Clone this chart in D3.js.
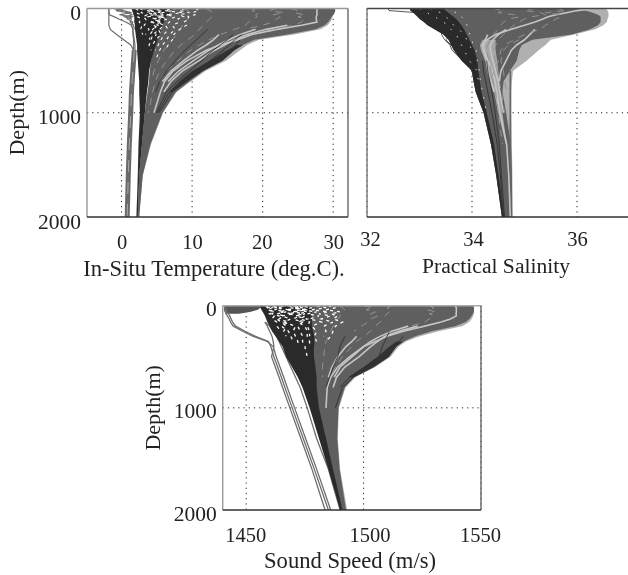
<!DOCTYPE html>
<html>
<head>
<meta charset="utf-8">
<script src="https://cdn.jsdelivr.net/npm/d3@7"></script>
<style>
  html, body { margin: 0; padding: 0; background: #fff; overflow: hidden; }
  text { font-family: "Liberation Serif", serif; fill: #222; }
</style>
</head>
<body>
<div class="canvas"></div>
<script>
// shared depth levels (m), every profile below has one value per level (short rows stop early)
const depths = [0,20,40,60,80,100,130,160,200,250,300,350,400,500,600,700,800,1000,1300,1600,2000]
const depthTicks = [0, 1000, 2000]
const _ = null

// ---- temperature (deg.C)
const tempTicks = [0, 10, 20, 30]
const tempEdge = [30.2,30.3,30.2,30,29.9,29.8,29.6,29.2,28.2,24.5,19.5,17.8,16.8,14.8,11.9,9.8,7.8,5.9,4.2,3,2.5]
const tempMidRight = [30.2,30.3,30.2,30,29.8,29.6,29.3,28.8,27.5,23.5,18.8,17.2,16,14.3,11.6,9.6,7.7,5.8,4.1,3,2.5]
const tempMidLeft = [6,6,6,6,6,5.8,5.6,5.4,5.2,5,4.8,4.6,4.4,4.2,4,3.9,3.7,3.3,2.9,2.5,2.3]
const tempDarkLeft = [1.4,1.5,1.6,1.7,1.8,1.8,1.8,1.9,1.9,2,2.1,2.2,2.2,2.3,2.4,2.5,2.5,2.6,2.4,2.3,2.1]
const tempDarkRight = [7,7,6.8,6.6,6.4,6.2,6,5.8,5.6,5.4,5.1,4.9,4.6,4.2,3.9,3.8,3.6,3.3,2.9,2.5,2.3]
const tempLowerA = [_,_,_,_,_,_,_,_,_,_,_,17.2,16,14.3,11.5,9.3,7.2]
const tempLowerB = [_,_,_,_,_,_,_,_,_,_,_,16.4,15,12.5,10,8.2,6.8]
const tempDark = [
  [_,_,_,_,_,_,_,_,_,_,16.8,16.2,15.5,13.9,11.3,9,7.2,5.3],
  [_,_,_,_,_,_,_,_,_,17,16,15.3,14.4,12.6,10.6,8.5,6.8,5.1],
  [_,_,_,_,_,_,_,_,_,15.8,15,14,13,11.4,9.6,7.9,6.4,4.9],
  [_,_,_,_,_,_,_,_,12.2,11.4,10.6,9.8,9,7.6,6.4,5.4,4.8]
]
const tempHoles = [
  [3,4.5,3.5,5,3.8,4.8,4.2,5.2,4.4,4.9,4.6],
  [5,3.6,5.5,4,6,4.4,5.6,4.6,5.2,5.6,4.8,4.4],
  [6.4,7.2,5.8,6.6,5,5.8,4.4,5,4.6,4,4],
  [2.6,3.2,2.8,3.6,3,3.4,3.6,3.2,3.9,3.4],
  [2,2.4,2.1,2.7,2.3,2.8,2.5,2.9,2.7,3],
  [7.8,6,8.6,6.4,7.6,7,6.8,6.2,6.6,6,5.6,5.2,4.8],
  [4,5.8,4.6,6.2,5.4,6.6,5,6,5.4,4.4,4.2,3.9,4.2],
  [9,8.2,9.6,8.2,8.8,8,8.2,7.2,7.6,6.8,6.4,5.8,5.4,4.8],
  [10.5,11,10,10.4,9.4,9.6,8.8,9.2,8.2,7.4,7.2,6.6,6.2]
]
const tempLight = [
  [27.7,27.7,27.7,27.7,27.6,27.6,27.7,25.5,22,18.5,16.5,14,12,9.3,7.3,6.1,5.5,4.6],
  [_,_,_,_,_,_,_,23.5,20.5,17.8,16,14.6,13.2,11,8.6,7,6],
  [_,_,_,_,_,_,_,_,19,16.8,15.2,13.7,12.4,10.2,8.1,6.6],
  [_,_,_,_,_,_,_,_,_,13.8,13,12,10.8,8.8,7,5.8]
]
const tempFleck = [
  [12,12.5,13,13,12.8,12.5,12,11.6,11,10.4,9.4,8.4,7.6,6.4,5.4,4.8,4.4,3.8],
  [19,18.5,19.5,19,19.2,18.6,18,17.6,16,14,12.4,11,9.8,8,6.4,5.4],
  [9,9.4,9.8,9.2,9.6,9.4,9,8.6,8.4,7.8,7.2,6.6,6,5.2,4.6,4.2],
  [24,25,24.5,26,25,26,25.5,24.5,21.5],
  [22,21,23,21.5,22.5,22,21.5,20,17.5]
]
const tempPolar = [
  [-1.8,-1.8,-1.8,-1.8,-1.8,-1.8,-1.8,-1.8,-1.6,-0.7,0.3,1.3,1.7,1.6,1.6,1.5,1.4,1.1,1,0.9,0.8],
  [-1.8,-1.8,-1.8,-1.7,-1,-0.4,0.6,1.4,1.6,1.6,1.7,1.7,1.7,1.7,1.6,1.5,1.4,1.2,1,0.9,0.8],
  [-1.2,0.2,1.4,-0.3,1.5,0.8,1.6,1.4,1.6,1.7,1.8,1.9,1.9,1.8,1.7,1.6,1.5,1.3,1.1,1,0.9],
  [0.4,-0.8,0.9,1.5,0.4,1.4,1.2,1.7,1.8]
]
const tempBand = [_,_,_,_,_,_,_,_,_,_,_,_,1.8,1.7,1.6,1.5,1.4,1.3,1.1,0.95,0.8]

// ---- salinity
const salTicks = [32, 34, 36]
const salEdge = [36.55,36.58,36.6,36.6,36.6,36.58,36.57,36.5,36.35,35.95,35.5,35.4,35.27,35.04,34.78,34.76,34.75,34.75,34.76,34.77,34.77]
const salMidRight = [36,36.15,36.3,36.4,36.45,36.45,36.45,36.4,36.25,35.9,35.15,34.95,34.9,34.85,34.72,34.6,34.58,34.65,34.74,34.76,34.77]
const salMidLeft = [33.1,33.15,33.2,33.25,33.3,33.35,33.4,33.45,33.5,33.6,33.65,33.7,33.75,33.85,34,34.03,34.07,34.22,34.36,34.46,34.57]
const salDarkLeft = [32.82,32.82,32.88,32.92,32.96,33,33.08,33.15,33.28,33.45,33.55,33.6,33.65,33.8,34,34.03,34.07,34.22,34.36,34.46,34.57]
const salDarkRight = [33.45,33.5,33.55,33.6,33.65,33.7,33.75,33.8,33.85,33.9,33.95,34,34.05,34.1,34.12,34.15,34.18,34.28,34.42,34.5,34.6]
const salBandLeft = [_,_,_,_,_,_,_,_,_,_,34.2,34.15,34.17,34.25,34.3,34.36,34.42,34.5,34.64]
const salBandRight = [_,_,_,_,_,_,_,_,_,_,34.45,34.45,34.45,34.48,34.5,34.52,34.54,34.58,34.66]
const salDark = [
  [32.4,32.42,32.95,33.1,33.2,33.25,33.3,33.4,33.5,33.55,33.6,33.63,33.7,33.9,34,34.05,34.1,34.25,34.4,34.5,34.6],
  [_,_,_,_,_,_,_,_,33.42,33.42,33.48,33.58,33.62,33.82],
  [_,_,_,_,_,_,_,_,33.52,33.6,33.5,33.6,33.72,33.9],
  [_,_,_,_,_,_,_,_,_,_,_,_,_,34.2,34.22,34.26,34.3,34.38,34.48,34.54,34.6],
  [_,_,_,_,_,_,_,_,_,_,_,_,_,34.28,34.3,34.34,34.38,34.44,34.52,34.56,34.62]
]
const salHoles = [
  [33.2,33.3,33.4,33.45,33.5,33.55,33.6,33.65,33.75,33.85,33.9,33.95,34],
  [33,33.1,33.15,33.2,33.3,33.35,33.45,33.55,33.6,33.7,33.75,33.8,33.85,33.95,34.1,34.12],
  [33.5,33.6,33.7,33.8,33.8,33.85,33.9,33.9,33.95,33.95,34,34.02,34.08,34.1,34.14,34.16,34.2,34.28]
]
const salLight = [
  [36.3,36,35.8,35.6,35.45,35.35,35.2,35,34.75,34.45,34.28,34.2,34.23,34.3,34.38,34.44,34.47,34.53,34.66,34.7,34.73],
  [_,_,_,_,_,_,_,_,34.65,34.5,34.4,34.35,34.35,34.4,34.45,34.5,34.53,34.6],
  [_,_,_,_,_,_,_,_,_,34.3,34.25,34.22,34.22,34.28,34.3,34.36,34.42],
  [_,_,_,_,_,_,_,_,35.2,35.1,35,34.85,34.75,34.65,34.55,34.52]
]
const salFleck = [
  [34.4,34.6,34.5,34.8,34.9,34.7,34.6,34.55,34.5,34.4,34.35,34.3,34.28,34.32,34.36,34.4,34.45,34.5,34.58],
  [35.2,35,35.3,35.4,35.1,35,34.9,34.8,34.7,34.6,34.5,34.45,34.42,34.44,34.48,34.52,34.56,34.62],
  [35.6,35.8,35.4,35.7,35.7,35.6,35.5,35.4,35.3,35,34.8,34.62,34.55,34.5,34.42,34.34],
  [_,_,_,_,_,_,_,_,_,_,34.9,34.7,34.6,34.55,34.6,34.62,34.66]
]
const salVertical = [_,_,_,_,_,_,_,_,_,_,_,_,_,_,34.73,34.73,34.73,34.73,34.73,34.74,34.74]

// ---- sound speed (m/s)
const soundTicks = [1450, 1500, 1550]
const soundEdge = [1546.7,1547,1547,1547,1547,1546.7,1546,1545,1542,1532,1524,1518,1515,1511.5,1505,1496.5,1492.3,1489.5,1489,1490,1493]
const soundMidRight = [1546.7,1547,1547,1547,1546.5,1546,1545,1543.5,1539,1529,1522,1517,1514,1511,1504.5,1496,1492,1489.3,1488.8,1489.8,1492.5]
const soundMidLeft = [1473,1473.5,1474,1474.5,1475,1475.5,1476,1477,1477.5,1478,1478.5,1478.5,1479,1479,1479,1479,1479.5,1480,1483,1486,1490]
const soundDarkLeft = [1456,1456,1456.5,1457,1457.5,1458,1458.5,1459,1460,1461,1462.5,1464,1465.5,1467,1469.5,1472,1474,1477,1481,1485,1490]
const soundDarkRight = [1478,1478,1478,1478,1478,1478,1478,1478,1478,1478.5,1479,1479,1479,1479,1479.5,1480,1480,1481,1484,1487,1491]
const soundLowerA = [_,_,_,_,_,_,_,_,_,_,_,1517,1514,1510.5,1504,1495.5]
const soundLowerB = [_,_,_,_,_,_,_,_,_,_,_,1514,1511,1506,1500,1493.5]
const soundStrip = [1458,1456,1455,1452,1447]
const soundStripLeft = [1440.5,1440.5,1440.5,1440.8,1441.2]
const soundDark = [
  [_,_,_,_,_,_,_,_,_,_,1517,1515,1513.5,1510.5,1504,1495.5,1491,1488],
  [_,_,_,_,_,_,_,_,_,1511,1510,1509,1508,1506.5,1501,1494,1490],
  [_,_,_,_,_,_,_,_,_,_,1492,1491,1490,1489,1487,1485.5,1484]
]
const soundHoles = [
  [1461,1465,1462,1467,1463,1466,1464,1468,1465,1468,1469,1470],
  [1466,1462,1468,1464,1470,1465,1469,1466,1471,1470,1471,1472,1472],
  [1470,1474,1467,1472,1468,1473,1470,1474,1472,1473,1474,1474,1475,1476],
  [1475,1469,1476,1470,1475,1471,1476,1472,1475,1476,1476,1477,1477],
  [1463,1459,1460,1462,1460,1462,1461,1463,1463,1465],
  [1472,1478,1473,1480,1476,1481,1477,1482,1478,1480,1479,1480],
  [1480,1484,1478,1485,1481,1486,1482,1487,1483,1484,1483],
  [1468,1472,1471,1476,1472,1475,1473,1477,1476,1477,1477],
  [1458,1461,1459,1462,1461,1464,1463,1465,1467,1466,1467],
  [1485,1488,1484,1490,1486,1489,1487,1491,1488,1487,1486,1484]
]
const soundLight = [
  [1539,1539.5,1539.5,1539.5,1539.4,1539.5,1537,1533,1526,1517,1510,1505,1500,1494,1489,1486,1484.5,1484],
  [_,_,_,_,_,_,_,_,1523,1515,1509,1506,1503,1498,1492,1488.5,1487],
  [_,_,_,_,_,_,_,_,1519,1512,1507,1503,1500,1495,1490,1487.5],
  [_,_,_,_,_,_,_,_,_,_,1497,1495,1492.5,1489,1486.5,1485]
]
const soundFleck = [
  [1490,1491,1492,1491,1490,1490,1489,1488,1487,1486,1485,1484,1483.5,1483,1482.5,1482.5],
  [1512,1510,1512,1511,1510,1509,1508,1507,1505,1503,1500,1497,1495,1491,1488,1486],
  [1528,1530,1527,1531,1528,1530,1528,1526,1520],
  [1500,1504,1501,1505,1503,1506,1503,1502,1499,1496]
]
const soundPolar = [
  [1441,1441,1441,1441.2,1441.5,1442,1442.8,1443.3,1444.5,1448.5,1453,1459,1461.5,1462.8,1464.4,1466,1467.5,1470.6,1475.3,1480,1486],
  [1441,1441,1441.5,1441.8,1442.5,1443,1443.6,1444.2,1445.5,1449.5,1454,1459.5,1460.5,1461.8,1463.4,1465,1466.5,1469.6,1474.3,1479,1485],
  [_,_,_,_,_,_,_,1458,1459,1460,1461,1461.5,1461.8,1460.8,1462.4,1464,1465.5,1468.6,1473.3,1478,1483.6],
  [_,_,_,_,_,_,_,1458,1460,1461.5,1463,1464,1465,1467,1469,1471,1473,1476,1480,1485,1490]
]

const svg = d3.select('.canvas').append('svg').attr('width', 628).attr('height', 575)
const defs = svg.append('defs')
defs.append('filter').attr('id', 'soft')
    .attr('filterUnits', 'userSpaceOnUse')
    .attr('x', 0).attr('y', 0).attr('width', 628).attr('height', 575)
    .append('feGaussianBlur').attr('stdDeviation', 0.5)
const root = svg.append('g').attr('filter', 'url(#soft)')

function drawPanel(p) {
    const x = d3.scaleLinear().domain(p.xDomain).range([p.left, p.right])
    const y = d3.scaleLinear().domain([0, 2000]).range([p.top, p.bottom])

    const g = root.append('g')

    // dotted grid sits under the data
    g.selectAll('.gx').data(p.ticks).enter().append('line')
        .attr('x1', d=> x(d)).attr('x2', d=> x(d))
        .attr('y1', p.top).attr('y2', p.bottom)
        .attr('stroke', '#222').attr('stroke-dasharray', '1.2 4')
    g.append('line')
        .attr('x1', p.left).attr('x2', p.right)
        .attr('y1', y(1000)).attr('y2', y(1000))
        .attr('stroke', '#222').attr('stroke-dasharray', '1.2 4')

    const area = (a, b) => d3.area()
        .defined((d, i)=> a[i] != null && b[i] != null)
        .x0((d, i)=> x(a[i])).x1((d, i)=> x(b[i]))
        .y((d, i)=> y(depths[i]))(depths)
    const line = d3.line()
        .defined(d=> d != null)
        .x(d=> x(d))
        .y((d, i)=> y(depths[i]))

    const drawLines = (rows, color, width, dash) => {
        g.append('g').selectAll('path').data(rows).enter().append('path')
            .attr('d', d=> line(d))
            .attr('fill', 'none').attr('stroke', color)
            .attr('stroke-width', width)
            .attr('stroke-dasharray', dash || null)
    }

    g.append('path').attr('d', area(p.midLeft, p.edge)).attr('fill', '#b0b0b0')
    g.append('path').attr('d', area(p.midLeft, p.midRight)).attr('fill', '#5e5e5e')
    if (p.stripLeft) g.append('path').attr('d', area(p.stripLeft, p.strip)).attr('fill', '#555')
    if (p.bandLeft) g.append('path').attr('d', area(p.bandLeft, p.bandRight)).attr('fill', '#a8a8a8')

    drawLines(p.polar, '#6e6e6e', p.polarWidth)
    if (p.band) {
        drawLines([p.band], '#6a6a6a', 5)
        drawLines([p.band], '#a8a8a8', 1, '12 10')
    }
    if (p.vertical) drawLines([p.vertical], '#666', 1.6)

    drawLines(p.light, '#c6c6c6', 1.6)
    drawLines(p.fleck, '#949494', 1, '7 6')
    g.append('path').attr('d', area(p.darkLeft, p.darkRight)).attr('fill', '#2c2c2c')
    if (p.lowerA) g.append('path').attr('d', area(p.lowerB, p.lowerA)).attr('fill', '#333')
    drawLines(p.dark, '#2c2c2c', 0.8)
    drawLines(p.holes, '#fff', p.holeWidth, p.holeDash)

    // frame
    const frame = [
        [p.left, p.top, p.right, p.top, p.frameTop],
        [p.left, p.top, p.left, p.bottom, p.frameLeft],
        [p.left, p.bottom, p.right, p.bottom, '#333'],
        [p.right, p.top, p.right, p.bottom, '#666']
    ]
    g.selectAll('.frame').data(frame).enter().append('line')
        .attr('x1', d=> d[0]).attr('y1', d=> d[1]).attr('x2', d=> d[2]).attr('y2', d=> d[3])
        .attr('stroke', d=> d[4]).attr('stroke-width', 1.4)

    // axes
    const xAxis = d3.axisBottom(x).tickValues(p.ticks).tickSize(0).tickPadding(0).tickFormat(d3.format('d'))
    const xg = g.append('g').attr('transform', `translate(0,${p.tickBase})`).call(xAxis)
    xg.select('.domain').remove()
    xg.selectAll('text').attr('dy', 0).attr('y', 0).attr('font-size', 20.5)
        .attr('dx', (d, i)=> p.xTickDx[i])
        .attr('font-family', '"Liberation Serif", serif')

    g.append('text').text(p.xLabel)
        .attr('x', p.xLabelX).attr('y', p.xLabelY)
        .attr('text-anchor', 'middle').attr('font-size', p.xLabelSize)

    if (p.depthAxis) {
        const yAxis = d3.axisLeft(y).tickValues(depthTicks).tickSize(0).tickPadding(6).tickFormat(d3.format('d'))
        const yg = g.append('g').attr('transform', `translate(${p.left},0)`).call(yAxis)
        yg.select('.domain').remove()
        yg.selectAll('text').attr('dy', p.yTickDy).attr('font-size', 21.5)
            .attr('font-family', '"Liberation Serif", serif')
        g.append('text').text('Depth(m)')
            .attr('transform', `translate(${p.yLabelX},${y(1000)}) rotate(-90)`)
            .attr('text-anchor', 'middle').attr('font-size', 22)
    }
}

drawPanel({
    xDomain: [-4.9, 32.1], ticks: tempTicks, left: 87, right: 348, top: 8.5, bottom: 217,
    edge: tempEdge, midLeft: tempMidLeft, midRight: tempMidRight,
    darkLeft: tempDarkLeft, darkRight: tempDarkRight, lowerA: tempLowerA, lowerB: tempLowerB, dark: tempDark,
    holes: tempHoles, holeWidth: 1.1, holeDash: '3 4',
    light: tempLight, fleck: tempFleck, polar: tempPolar, polarWidth: 1.2, band: tempBand,
    frameTop: '#999', frameLeft: '#999', tickBase: 249, yTickDy: 11, xTickDx: [0, 0, -1, 0],
    xLabel: 'In-Situ Temperature (deg.C).', xLabelX: 214, xLabelY: 276, xLabelSize: 22.6,
    depthAxis: true, yLabelX: 23.5
})

drawPanel({
    xDomain: [32, 37], ticks: salTicks, left: 367, right: 629.5, top: 8.5, bottom: 217,
    edge: salEdge, midLeft: salMidLeft, midRight: salMidRight,
    bandLeft: salBandLeft, bandRight: salBandRight,
    darkLeft: salDarkLeft, darkRight: salDarkRight, dark: salDark,
    holes: salHoles, holeWidth: 0.8, holeDash: '1.5 8',
    light: salLight, fleck: salFleck, polar: [], polarWidth: 1, vertical: salVertical,
    frameTop: '#444', frameLeft: '#777', tickBase: 246, xTickDx: [3, 1, 0],
    xLabel: 'Practical Salinity', xLabelX: 496, xLabelY: 273, xLabelSize: 21.6
})

drawPanel({
    xDomain: [1440, 1550], ticks: soundTicks, left: 222.7, right: 481, top: 305.7, bottom: 510,
    edge: soundEdge, midLeft: soundMidLeft, midRight: soundMidRight,
    strip: soundStrip, stripLeft: soundStripLeft,
    darkLeft: soundDarkLeft, darkRight: soundDarkRight, lowerA: soundLowerA, lowerB: soundLowerB, dark: soundDark,
    holes: soundHoles, holeWidth: 1.3, holeDash: '3 4',
    light: soundLight, fleck: soundFleck, polar: soundPolar, polarWidth: 1.3,
    frameTop: '#aaa', frameLeft: '#999', tickBase: 541.7, yTickDy: 10, xTickDx: [-1, 6, -1],
    xLabel: 'Sound Speed (m/s)', xLabelX: 350, xLabelY: 568, xLabelSize: 22.6,
    depthAxis: true, yLabelX: 160
})
</script>
</body>
</html>
